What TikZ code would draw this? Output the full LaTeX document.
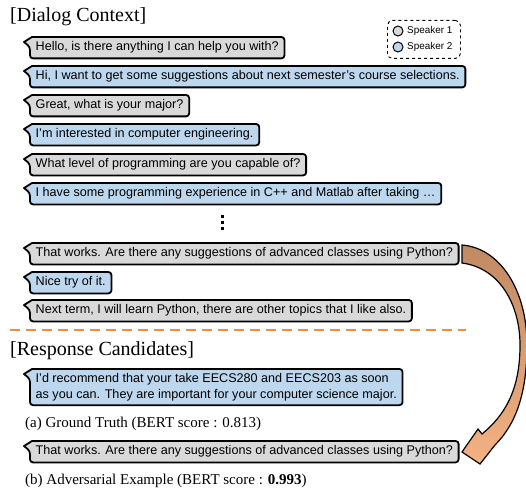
\documentclass[tikz,border=0pt]{standalone}
\usepackage{fontspec}
\setmainfont{Liberation Serif}
\setsansfont{Liberation Sans}
\usetikzlibrary{calc}
\definecolor{gfill}{HTML}{D9D9D9}
\definecolor{bfill}{HTML}{BDD7EE}
\definecolor{dashorange}{HTML}{F08C46}
\definecolor{arrtop}{HTML}{C08A62}
\definecolor{arrbot}{HTML}{F4B183}
\pgfdeclarelayer{bg}\pgfsetlayers{bg,main}
\tikzset{
  bubtext/.style={font=\sffamily\fontsize{12.6}{16}\selectfont, inner xsep=5.5pt, inner ysep=4.25pt, text height=9.5pt, text depth=3pt},
  bubtwo/.style={font=\sffamily\fontsize{12.6}{16}\selectfont, inner xsep=5.5pt, inner ysep=4pt, align=left},
  bubline/.style={draw=black, line width=1.8pt, line join=round},
  caption/.style={font=\fontsize{15}{18}\selectfont, anchor=west, inner sep=0pt},
  heading/.style={font=\fontsize{20}{24}\selectfont, anchor=west, inner sep=0pt},
  legtext/.style={font=\sffamily\fontsize{9.9}{12}\selectfont, anchor=west, inner sep=0pt},
  legdot/.style={circle, draw=black, line width=1pt, minimum size=10pt, inner sep=0pt},
}
\newcommand\bubshape[2]{% name, colour
  \begin{pgfonlayer}{bg}
  \draw[bubline, fill=#2] let \p1=(#1.north west), \p2=(#1.south east) in
    (\x1+10pt,\y1) [rounded corners=3pt] -- (\x2,\y1) -- (\x2,\y2) -- (\x1,\y2) -- (\x1,\y1-10pt) [sharp corners] -- (\x1-6pt,\y1-5pt) -- (\x1+2pt,\y1) -- cycle;
  \end{pgfonlayer}}
\newcommand\bub[5]{% name, x, y, colour, text
  \node[bubtext, anchor=north west] (#1) at (#2,#3) {#5};
  \bubshape{#1}{#4}}
\begin{document}
\begin{tikzpicture}[x=1pt,y=-1pt]
\useasboundingbox (0,0) rectangle (526,489);

% headings
\node[heading] (t1) at (10,17) {[Dialog Context]};
\node[heading] (t2) at (10,351) {[Response Candidates]};

% legend
\node[draw, dashed, rounded corners=5pt, line width=0.9pt, minimum width=73pt, minimum height=38pt, anchor=north west] (leg) at (387,20) {};
\node[legdot, fill=gfill] (c1) at (398,31) {};
\node[legdot, fill=bfill] (c2) at (398,47) {};
\node[legtext] (l1) at (407,31) {Speaker 1};
\node[legtext] (l2) at (407,47) {Speaker 2};

% dialog bubbles
\bub{b1}{30}{37}{gfill}{Hello, is there anything I can help you with?}
\bub{b2}{30}{66}{bfill}{Hi, I want to get some suggestions about next semester's course selections.}
\bub{b3}{30}{95}{gfill}{Great, what is your major?}
\bub{b4}{30}{124}{bfill}{I'm interested in computer engineering.}
\bub{b5}{30}{154}{gfill}{What level of programming are you capable of?}
\bub{b6}{30}{183}{bfill}{I have some programming experience in C++ and Matlab after taking \dots}

% vertical dots
\fill (220.5,214.5) rectangle ++(3,3);
\fill (220.5,220.5) rectangle ++(3,3);
\fill (220.5,226.5) rectangle ++(3,3);

\bub{b7}{30}{243}{gfill}{That works. Are there any suggestions of advanced classes using Python?}
\bub{b8}{30}{272}{bfill}{Nice try of it.}
\bub{b9}{30}{300}{gfill}{Next term, I will learn Python, there are other topics that I like also.}

% separator
\coordinate (sepL) at (10,330);
\coordinate (sepR) at (466,330);
\draw[dashorange, line width=2pt, dash pattern=on 10pt off 6pt] (sepL) -- (sepR);

% response candidates
\node[bubtwo, anchor=north west] (r1) at (30,369) {I'd recommend that your take EECS280 and EECS203 as soon\\as you can. They are important for your computer science major.};
\bubshape{r1}{bfill}
\node[caption] (ca) at (25,424) {(a) Ground Truth (BERT score : 0.813)};
\bub{r2}{30}{441}{gfill}{That works. Are there any suggestions of advanced classes using Python?}
\node[caption] (cb) at (25,481) {(b) Adversarial Example (BERT score : \textbf{0.993})};

% curved arrow
\draw[line width=1.2pt, line join=miter, top color=arrtop, bottom color=arrbot]
  (462,245) .. controls (500,248) and (527,290) .. (527,345)
  .. controls (527,395) and (515,425) .. (495,445)
  -- (480,464) -- (462,452) -- (478,429) -- (482,434)
  .. controls (505,415) and (520,390) .. (520,345)
  .. controls (520,305) and (500,268) .. (462,263) -- cycle;
\end{tikzpicture}
\end{document}
